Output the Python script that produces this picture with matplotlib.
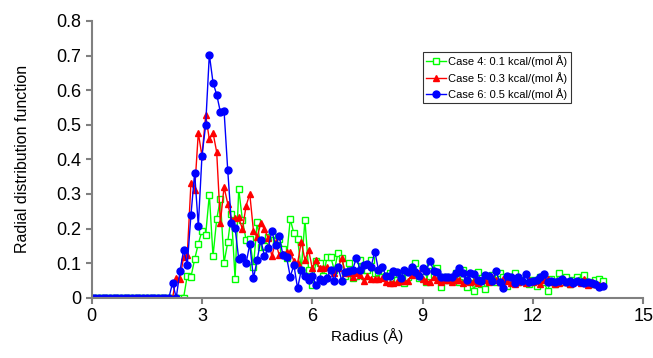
import numpy as np
from matplotlib import pyplot as plt

plt.rcParams['font.family'] = ['Liberation Sans', 'DejaVu Sans']

# radius grid, 0.0 .. 13.9 A in 0.1 steps
radius = np.round(np.arange(0, 140) * 0.1, 1)

case4 = [0.0] * 26 + [
    0.064, 0.060, 0.111, 0.156, 0.193, 0.182, 0.298, 0.120, 0.227, 0.285,
    0.101, 0.160, 0.243, 0.055, 0.314, 0.224, 0.167, 0.169, 0.090, 0.218,
    0.147, 0.150, 0.175, 0.185, 0.165, 0.170, 0.140, 0.115, 0.227, 0.186,
    0.171, 0.081, 0.225, 0.080, 0.037, 0.105, 0.100, 0.062, 0.117, 0.118,
    0.080, 0.130, 0.116, 0.062, 0.100, 0.058, 0.062, 0.108, 0.062, 0.080,
    0.108, 0.070, 0.075, 0.060, 0.062, 0.070, 0.056, 0.051, 0.062, 0.042,
    0.060, 0.080, 0.100, 0.056,
    0.060, 0.045, 0.095, 0.065, 0.085, 0.030, 0.060, 0.050, 0.055, 0.070,
    0.045, 0.080, 0.030, 0.060, 0.020, 0.075, 0.040, 0.025, 0.055, 0.065,
    0.045, 0.070, 0.060, 0.035, 0.055, 0.070, 0.045, 0.050, 0.060, 0.040,
    0.050, 0.035, 0.060, 0.045, 0.020, 0.055, 0.040, 0.070, 0.045, 0.060,
    0.040, 0.050, 0.060, 0.050, 0.066, 0.045, 0.040, 0.050, 0.055, 0.048,
]

case5 = [0.0] * 23 + [
    0.058, 0.055, 0.118, 0.124, 0.332, 0.310, 0.477, 0.409, 0.527, 0.458,
    0.477, 0.421, 0.217, 0.320, 0.272, 0.226, 0.230, 0.232, 0.198, 0.266,
    0.300, 0.193, 0.176, 0.215, 0.198, 0.172, 0.120, 0.162, 0.123, 0.125,
    0.133, 0.133, 0.106, 0.099, 0.162, 0.109, 0.138, 0.085, 0.109, 0.085,
    0.085, 0.090, 0.080, 0.071, 0.085, 0.116, 0.071, 0.071, 0.061, 0.071,
    0.066, 0.048, 0.064, 0.053, 0.053, 0.053, 0.056, 0.045, 0.043, 0.043,
    0.045, 0.048, 0.048, 0.048, 0.066, 0.071, 0.071,
    0.055, 0.048, 0.045, 0.060, 0.050, 0.045, 0.050, 0.052, 0.045, 0.050,
    0.050, 0.042, 0.047, 0.045, 0.048, 0.043, 0.050, 0.052, 0.046, 0.060,
    0.050, 0.045, 0.055, 0.047, 0.043, 0.040, 0.045, 0.048, 0.042, 0.050,
    0.045, 0.048, 0.040, 0.050, 0.055, 0.045, 0.040, 0.043, 0.050, 0.045,
    0.040, 0.045, 0.048, 0.042, 0.053, 0.038, 0.045, 0.040, 0.038, 0.037,
]

case6 = [0.0] * 22 + [
    0.043, 0.000, 0.076, 0.138, 0.096, 0.239, 0.361, 0.207, 0.411, 0.499,
    0.703, 0.622, 0.587, 0.537, 0.541, 0.369, 0.215, 0.202, 0.111, 0.118,
    0.100, 0.155, 0.056, 0.109, 0.167, 0.120, 0.143, 0.193, 0.152, 0.178,
    0.123, 0.118, 0.061, 0.094, 0.027, 0.080, 0.064, 0.051, 0.064, 0.037,
    0.055, 0.049, 0.056, 0.080, 0.048, 0.090, 0.049, 0.075, 0.077, 0.081,
    0.116, 0.081, 0.095, 0.097, 0.090, 0.133, 0.081, 0.090, 0.064, 0.063,
    0.077, 0.075, 0.056, 0.081, 0.075, 0.090, 0.075, 0.063,
    0.085, 0.077, 0.107, 0.078, 0.073, 0.061, 0.061, 0.061, 0.061, 0.070,
    0.087, 0.070, 0.051, 0.070, 0.068, 0.050, 0.048, 0.067, 0.063, 0.047,
    0.076, 0.044, 0.029, 0.063, 0.059, 0.042, 0.059, 0.047, 0.068, 0.044,
    0.047, 0.051, 0.059, 0.068, 0.044, 0.049, 0.044, 0.049, 0.054, 0.044,
    0.049, 0.042, 0.047, 0.044, 0.042, 0.044, 0.042, 0.040, 0.032, 0.035,
]

labels = ["Case 4: 0.1 kcal/(mol Å)", "Case 5: 0.3 kcal/(mol Å)", "Case 6: 0.5 kcal/(mol Å)"]

fig = plt.figure(figsize=(6.53, 3.58), dpi=100)
ax = fig.add_axes([0.1404, 0.1684, 0.8446, 0.773])

ax.plot(radius, case4, color="#00ff00", lw=1, marker="s", ms=4.5,
        mfc="white", mec="#00ff00", mew=1, label=labels[0])
ax.plot(radius, case5, color="#ff0000", lw=1, marker="^", ms=5,
        label=labels[1])
ax.plot(radius, case6, color="#0000ff", lw=1, marker="o", ms=5,
        label=labels[2])

ax.set_xlim(0, 15)
ax.set_ylim(0, 0.8)
ax.set_xticks([0, 3, 6, 9, 12, 15])
ax.set_yticks(np.arange(0, 0.81, 0.1))
ax.set_yticklabels(["0", "0.1", "0.2", "0.3", "0.4", "0.5", "0.6", "0.7", "0.8"])
ax.tick_params(labelsize=13, color="#808080", width=1.5, length=4)
for s in ["top", "right"]:
    ax.spines[s].set_visible(False)
for s in ["left", "bottom"]:
    ax.spines[s].set_color("#808080")
    ax.spines[s].set_linewidth(1.5)

ax.set_xlabel("Radius (Å)", fontsize=11, labelpad=2)
ax.set_ylabel("Radial distribution function", fontsize=11.5, labelpad=19)

leg = ax.legend(loc="upper left", bbox_to_anchor=(0.6, 0.888), fontsize=8,
                frameon=True, fancybox=False, handlelength=1.8,
                borderpad=0.3, labelspacing=0.4, handletextpad=0.2,
                borderaxespad=0)
leg.get_frame().set_edgecolor("black")
leg.get_frame().set_linewidth(0.8)

plt.savefig("out.png", dpi=100)
plt.close()
